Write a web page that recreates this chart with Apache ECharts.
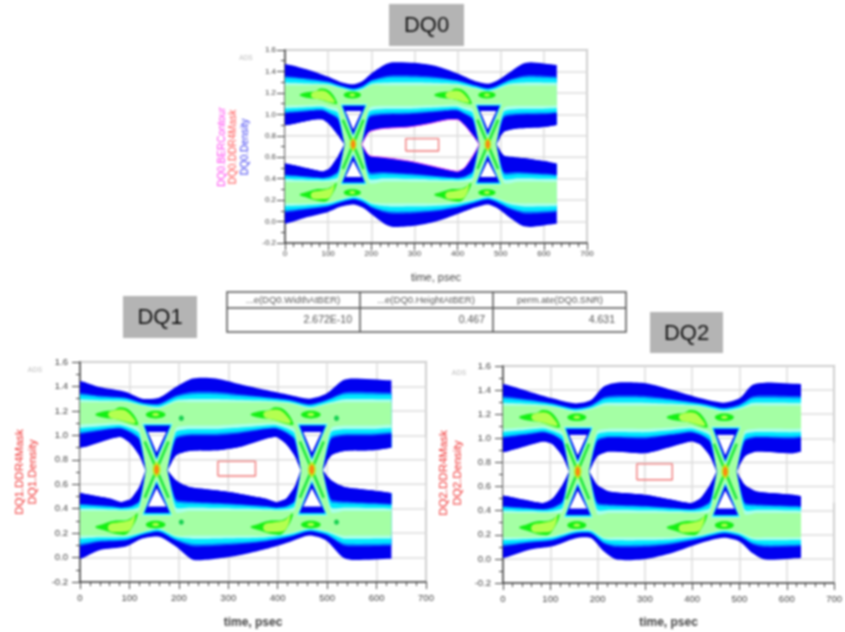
<!DOCTYPE html>
<html><head><meta charset="utf-8">
<style>html,body{margin:0;padding:0;background:#fff}#c{width:845px;height:632px;filter:blur(0.85px)}</style>
<script src="https://cdn.jsdelivr.net/npm/echarts@6/dist/echarts.min.js"></script>
</head><body><div id="c"></div>
<script>
// ---------- axis data
const xTicks=[0,100,200,300,400,500,600,700];
const yTicks=[-0.2,0,0.2,0.4,0.6,0.8,1.0,1.2,1.4,1.6];
// ---------- table
const tableHeaders=['...e(DQ0.WidthAtBER)','...e(DQ0.HeightAtBER)','perm.ate(DQ0.SNR)'];
const tableValues=['2.672E-10','0.467','4.631'];
// ---------- DQ0 curves
const dq0TopT=[0,50,100,130,160,180,200,230,250,300,350,400,440,470,490,520,550,570,630];
const dq0Top=[1.47,1.42,1.35,1.30,1.28,1.31,1.38,1.46,1.485,1.48,1.45,1.38,1.31,1.285,1.31,1.39,1.47,1.485,1.46];
const dq0GreenTop=[1.27,1.27,1.27,1.24,1.21,1.23,1.27,1.27,1.27,1.27,1.27,1.27,1.24,1.21,1.23,1.27,1.27,1.27,1.27];
const dq0Bot=[-0.02,0.04,0.09,0.14,0.16,0.13,0.07,-0.02,-0.05,-0.04,0.0,0.07,0.13,0.16,0.13,0.04,-0.04,-0.05,-0.02];
const dq0GreenBot=[0.17,0.17,0.18,0.21,0.24,0.22,0.18,0.17,0.17,0.17,0.17,0.18,0.21,0.24,0.22,0.18,0.17,0.17,0.17];
const dq0EyeT=[178,195,226,288,334,381,400,416,435,450];
const dq0EyeUp=[0.72,0.835,0.867,0.882,0.913,0.951,0.951,0.90,0.805,0.72];
const dq0EyeUpOuter=[0.72,1.06,1.08,1.08,1.085,1.09,1.09,1.07,1.05,0.72];
const dq0EyeLo=[0.72,0.617,0.60,0.564,0.524,0.48,0.468,0.50,0.61,0.72];
const dq0EyeLoOuter=[0.72,0.36,0.37,0.37,0.37,0.37,0.37,0.37,0.38,0.72];
const dq0MaskT=[280,356], dq0MaskV=[0.658,0.773];
const dq0Cross=[158,470];
// ---------- DQ1 curves
const dq1TopT=[0,39,93,126,160,194,228,275,322,376,424,464,498,532,552,630];
const dq1Top=[1.445,1.395,1.355,1.30,1.308,1.395,1.465,1.465,1.42,1.37,1.33,1.30,1.34,1.45,1.465,1.45];
const dq1GreenTop=[1.27,1.27,1.27,1.24,1.22,1.27,1.27,1.27,1.27,1.27,1.26,1.22,1.25,1.27,1.27,1.27];
const dq1Bot=[-0.01,0.06,0.09,0.155,0.17,0.09,-0.017,-0.01,0.018,0.07,0.128,0.18,0.14,0.0,-0.02,-0.01];
const dq1GreenBot=[0.18,0.18,0.18,0.21,0.24,0.18,0.18,0.18,0.18,0.18,0.20,0.24,0.22,0.18,0.18,0.18];
const dq1EyeT=[177,194,221,275,322,376,397,417,434,447];
const dq1EyeUp=[0.714,0.836,0.872,0.877,0.905,0.973,0.986,0.93,0.836,0.714];
const dq1EyeUpOuter=[0.714,1.06,1.08,1.08,1.09,1.10,1.10,1.08,1.05,0.714];
const dq1EyeLo=[0.714,0.632,0.577,0.55,0.523,0.482,0.455,0.482,0.577,0.714];
const dq1EyeLoOuter=[0.714,0.37,0.38,0.38,0.38,0.38,0.38,0.38,0.39,0.714];
const dq1MaskT=[279,355], dq1MaskV=[0.667,0.787];
const dq1Cross=[155,469];
// ---------- DQ2 curves
const dq2TopT=[0,56,104,152,186,213,240,302,357,418,466,500,527,555,630];
const dq2Top=[1.45,1.387,1.332,1.29,1.318,1.43,1.462,1.456,1.40,1.332,1.296,1.332,1.443,1.462,1.45];
const dq2GreenTop=[1.27,1.27,1.26,1.22,1.24,1.27,1.27,1.27,1.27,1.26,1.22,1.24,1.27,1.27,1.27];
const dq2Bot=[0.007,0.076,0.104,0.17,0.173,0.063,-0.006,0.0,0.049,0.132,0.175,0.145,0.049,-0.006,0.007];
const dq2GreenBot=[0.18,0.18,0.19,0.24,0.24,0.18,0.18,0.18,0.18,0.20,0.24,0.22,0.18,0.18,0.18];
const dq2EyeT=[182,199,224,302,357,397,417,438,452];
const dq2EyeUp=[0.725,0.85,0.89,0.877,0.932,0.973,0.95,0.85,0.725];
const dq2EyeUpOuter=[0.725,1.06,1.08,1.08,1.09,1.10,1.08,1.05,0.725];
const dq2EyeLo=[0.725,0.615,0.56,0.532,0.49,0.463,0.50,0.615,0.725];
const dq2EyeLoOuter=[0.725,0.37,0.38,0.38,0.38,0.38,0.38,0.39,0.725];
const dq2MaskT=[283,358], dq2MaskV=[0.656,0.788];
const dq2Cross=[158,470];
// ---------- shapes around each crossing (offset in time from crossing, absolute volts)
const triTop=[[[-30,1.10],[33,1.10],[0,0.785]],[[-28,1.09],[31,1.09],[0,0.795]],[[-25,1.08],[28,1.08],[0,0.81]],[[-18,1.03],[20,1.03],[0,0.855]]];
const triBot=[[[-30,0.34],[32,0.34],[0,0.645]],[[-28,0.35],[30,0.35],[0,0.63]],[[-25,0.365],[27,0.365],[0,0.615]],[[-18,0.415],[20,0.415],[0,0.57]]];
const blobTopGreen=[[-124,1.18],[-108,1.205],[-88,1.215],[-73,1.24],[-53,1.21],[-37,1.10],[-48,1.10],[-80,1.14],[-108,1.155]];
const blobTopLight=[[-96,1.20],[-68,1.22],[-53,1.18],[-43,1.11],[-78,1.14],[-96,1.16]];
const blobBotGreen=[[-124,0.25],[-108,0.225],[-78,0.19],[-58,0.20],[-38,0.36],[-58,0.31],[-88,0.30],[-108,0.275]];
const blobBotLight=[[-96,0.27],[-73,0.29],[-53,0.31],[-43,0.35],[-53,0.23],[-73,0.21],[-96,0.22]];
const armA=[[-24,0.23],[0,0],[24,-0.23]];
const armB=[[-24,-0.23],[0,0],[24,0.23]];
// ---------- colours & shares of each band
const bandColors=['#0000f0','#0078ff','#00e8ff','#a8ffe8','#a4ffa4'];
const envShares=[0,0.56,0.66,0.86,1];
const eyeShares=[1,0.85,0.68,0.6];
const eyeColors=['#a8ffe8','#00e8ff','#0078ff','#0000f0'];
const triColors=['#a8ffe8','#00e8ff','#0000f0'];

const charts=[
 {name:'DQ0',grid:{left:285,top:50,width:302,height:193},fs:8,nameFs:11,nameW:'normal',nameGap:29,lm:9,xm:7,topT:dq0TopT,top:dq0Top,gTop:dq0GreenTop,botT:dq0TopT,bot:dq0Bot,gBot:dq0GreenBot,eyeT:dq0EyeT,up:dq0EyeUp,upO:dq0EyeUpOuter,lo:dq0EyeLo,loO:dq0EyeLoOuter,maskT:dq0MaskT,maskV:dq0MaskV,cross:dq0Cross,vc:0.72,railT:1.18,railB:0.27,ber:true,extra:false},
 {name:'DQ1',grid:{left:80,top:362,width:346,height:220},fs:9.5,nameFs:12,nameW:'bold',nameGap:35,lm:12,xm:11,topT:dq1TopT,top:dq1Top,gTop:dq1GreenTop,botT:dq1TopT,bot:dq1Bot,gBot:dq1GreenBot,eyeT:dq1EyeT,up:dq1EyeUp,upO:dq1EyeUpOuter,lo:dq1EyeLo,loO:dq1EyeLoOuter,maskT:dq1MaskT,maskV:dq1MaskV,cross:dq1Cross,vc:0.72,railT:1.17,railB:0.27,ber:false,extra:true},
 {name:'DQ2',grid:{left:503,top:366,width:341,height:217},fs:9.5,nameFs:12,nameW:'bold',nameGap:34,lm:12,xm:11,topT:dq2TopT,top:dq2Top,gTop:dq2GreenTop,botT:dq2TopT,bot:dq2Bot,gBot:dq2GreenBot,eyeT:dq2EyeT,up:dq2EyeUp,upO:dq2EyeUpOuter,lo:dq2EyeLo,loO:dq2EyeLoOuter,maskT:dq2MaskT,maskV:dq2MaskV,cross:dq2Cross,vc:0.725,railT:1.175,railB:0.28,ber:false,extra:false}
];

function level(t,a,b,s,dt){return t.map((x,i)=>[x+dt,a[i]+(b[i]-a[i])*s]);}
function pad(p){return [[-40,p[0][1]]].concat(p,[[670,p[p.length-1][1]]]);}

function buildLayers(c){
 const L=[];
 envShares.forEach((s,i)=>{
  const up=pad(level(c.topT,c.top,c.gTop,s,0)), dn=pad(level(c.botT,c.bot,c.gBot,s,0)).reverse();
  L.push({kind:'poly',pts:up.concat(dn),fill:bandColors[i],smooth:0.25,cut:true});
 });
 const period=c.cross[1]-c.cross[0];
 [-period,0,period].forEach(dt=>{
  eyeShares.forEach((s,i)=>{
   const up=level(c.eyeT,c.up,c.upO,s,dt), dn=level(c.eyeT,c.lo,c.loO,s,dt).reverse();
   L.push({kind:'poly',pts:up.concat(dn),fill:eyeColors[i],smooth:0.2,cut:true});
  });
  const up=level(c.eyeT,c.up,c.up,0,dt), dn=level(c.eyeT,c.lo,c.lo,0,dt).reverse();
  L.push({kind:'hole',pts:up.concat(dn),smooth:0.2});
 });
 c.cross.forEach(x=>{
  const sh=a=>a.map(p=>[p[0]+x,p[1]]);
  [triTop,triBot].forEach(tr=>{
   tr.slice(0,3).forEach((t,i)=>L.push({kind:'poly',pts:sh(t),fill:triColors[i],smooth:0}));
   L.push({kind:'hole',pts:sh(tr[3]),smooth:0});
  });
  const dT=c.railT-1.18,dB=c.railB-0.27;
  const sv=(a,d)=>a.map(p=>[p[0]+x,p[1]+d]);
  L.push({kind:'poly',pts:sv(blobTopGreen,dT),fill:'#14f014',smooth:0.4});
  L.push({kind:'poly',pts:sv(blobTopLight,dT),fill:'#b4ff50',smooth:0.4});
  L.push({kind:'poly',pts:sv(blobBotGreen,dB),fill:'#14f014',smooth:0.4});
  L.push({kind:'poly',pts:sv(blobBotLight,dB),fill:'#b4ff50',smooth:0.4});
  [c.railT,c.railB].forEach(v=>{
   L.push({kind:'ell',t:x-2,v:v,rt:20,rv:0.032,fill:'#14f014'});
   L.push({kind:'ell',t:x-2,v:v,rt:7,rv:0.014,fill:'#b4ff50'});
  });
  if(c.extra){[c.railT-0.03,c.railB+0.02].forEach(v=>L.push({kind:'ell',t:x+50,v:v,rt:5,rv:0.022,fill:'#14d050'}));}
  const arm=a=>a.map(p=>[p[0]+x,p[1]+c.vc]);
  L.push({kind:'line',pts:arm(armA),color:'#18e838',w:2.5});
  L.push({kind:'line',pts:arm(armB),color:'#18e838',w:2.5});
  L.push({kind:'ell',t:x,v:c.vc,rt:8,rv:0.06,fill:'#b8f020'});
  L.push({kind:'ell',t:x,v:c.vc,rt:4.5,rv:0.04,fill:'#ff8410'});
 });
 return L;
}

function renderer(c,L,gi){
 return function(params,api){
  const l=L[params.dataIndex];
  const P=a=>a.map(p=>api.coord(p));
  if(l.kind==='poly'){
   const el={type:'polygon',shape:{points:P(l.pts),smooth:l.smooth||0},style:{fill:l.fill}};
   if(l.cut){
    const a=api.coord([0,1.6]),b=api.coord([630,-0.2]);
    el.clipPath={type:'rect',shape:{x:a[0],y:a[1],width:b[0]-a[0],height:b[1]-a[1]}};
   }
   return el;
  }
  if(l.kind==='line'){
   return {type:'polyline',shape:{points:P(l.pts)},style:{stroke:l.color,lineWidth:l.w,fill:null}};
  }
  if(l.kind==='ell'){
   const o=api.coord([l.t,l.v]),s=api.size([l.rt,l.rv]);
   return {type:'ellipse',shape:{cx:o[0],cy:o[1],rx:s[0],ry:s[1]},style:{fill:l.fill}};
  }
  const pts=P(l.pts);
  const kids=[{type:'polygon',shape:{points:pts,smooth:l.smooth||0},style:{fill:'#fff'}}];
  const a=api.coord([0,-0.2]),b=api.coord([700,1.6]);
  xTicks.forEach(t=>{const p=api.coord([t,0]);kids.push({type:'line',shape:{x1:p[0],y1:a[1],x2:p[0],y2:b[1]},style:{stroke:'#dcdcdc',lineWidth:1.5}});});
  yTicks.forEach(v=>{const p=api.coord([0,v]);kids.push({type:'line',shape:{x1:a[0],y1:p[1],x2:b[0],y2:p[1]},style:{stroke:'#dcdcdc',lineWidth:1.5}});});
  return {type:'group',clipPath:{type:'polygon',shape:{points:pts,smooth:l.smooth||0}},children:kids};
 };
}

const grids=[],xAxes=[],yAxes=[],series=[];
charts.forEach((c,i)=>{
 grids.push(Object.assign({show:true,borderColor:'#8a8a8a',borderWidth:1.5},c.grid));
 xAxes.push({type:'value',gridIndex:i,min:0,max:700,interval:100,name:'time, psec',nameLocation:'middle',nameGap:c.nameGap,
  nameTextStyle:{color:'#444',fontSize:c.nameFs,fontFamily:'Liberation Sans',fontWeight:c.nameW},
  axisLine:{show:true,onZero:false,lineStyle:{color:'#444',width:1.5}},axisTick:{show:true,length:7,lineStyle:{color:'#444'}},
  minorTick:{show:true,splitNumber:5,length:4,lineStyle:{color:'#444'}},
  axisLabel:{color:'#444',fontSize:c.fs,fontFamily:'Liberation Sans',margin:c.xm,showMaxLabel:true,showMinLabel:true},
  splitLine:{show:true,lineStyle:{color:'#dcdcdc',width:1.5}},minorSplitLine:{show:false}});
 yAxes.push({type:'value',gridIndex:i,min:-0.2,max:1.6,interval:0.2,
  axisLine:{show:true,onZero:false,lineStyle:{color:'#444',width:1.5}},axisTick:{show:true,length:8,lineStyle:{color:'#444'}},
  minorTick:{show:true,splitNumber:2,length:4,lineStyle:{color:'#444'}},
  axisLabel:{color:'#444',fontSize:c.fs,fontFamily:'Liberation Sans',margin:c.lm,formatter:v=>(+v).toFixed(1),showMaxLabel:true,showMinLabel:true},
  splitLine:{show:true,lineStyle:{color:'#dcdcdc',width:1.5}}});
 const L=buildLayers(c);
 series.push({type:'custom',name:c.name+'.Density',xAxisIndex:i,yAxisIndex:i,coordinateSystem:'cartesian2d',clip:true,silent:true,
  renderItem:renderer(c,L,i),encode:{x:0,y:1},animation:false,
  data:L.map(l=>l.pts?[l.pts[0][0],l.pts[0][1]]:[l.t,l.v])});
 const mt=c.maskT,mv=c.maskV;
 series.push({type:'line',name:c.name+'.DDR4Mask',xAxisIndex:i,yAxisIndex:i,symbol:'none',silent:true,animation:false,
  lineStyle:{color:'#f07878',width:1.4},data:[[mt[0],mv[0]],[mt[1],mv[0]],[mt[1],mv[1]],[mt[0],mv[1]],[mt[0],mv[0]]]});
 if(c.ber){
  const up=c.eyeT.map((t,j)=>[t,c.up[j]]),dn=c.eyeT.map((t,j)=>[t,c.lo[j]]).reverse();
  series.push({type:'line',name:c.name+'.BERContour',xAxisIndex:i,yAxisIndex:i,symbol:'none',silent:true,animation:false,smooth:0.2,
   lineStyle:{color:'#ff50f0',width:1},data:up.concat(dn)});
 }
});

const txt=(x,y,t,o)=>({type:'text',x:x,y:y,z:10,style:Object.assign({text:t,fontFamily:'Liberation Sans',fill:'#555',fontSize:10,textAlign:'center',textVerticalAlign:'middle'},o||{})});
const rot=(x,y,t,color,fs)=>({type:'text',x:x,y:y,rotation:Math.PI/2,z:10,style:{text:t,fontFamily:'Liberation Sans',fill:color,fontSize:fs,textAlign:'center',textVerticalAlign:'middle'}});
const titleBox=(x,y,w,h,t)=>[{type:'rect',z:9,shape:{x:x,y:y,width:w,height:h},style:{fill:'#b4b4b4'}},txt(x+w/2,y+h/2+1,t,{fontSize:22,fill:'#111'})];
const ln=(x1,y1,x2,y2)=>({type:'line',z:9,shape:{x1,y1,x2,y2},style:{stroke:'#555',lineWidth:1.5}});
const g=[].concat(
 titleBox(389,4,75,42,'DQ0'),titleBox(123,296,74,42,'DQ1'),titleBox(650,312,73,41,'DQ2'),
 [{type:'rect',z:9,shape:{x:227,y:292,width:399,height:40},style:{fill:'#fff',stroke:'#555',lineWidth:1.5}},
  ln(227,308,626,308),ln(360,292,360,332),ln(493,292,493,332),
  txt(293,300,tableHeaders[0],{fontSize:9.5,fill:'#555'}),txt(426,300,tableHeaders[1],{fontSize:9.5,fill:'#555'}),txt(560,300,tableHeaders[2],{fontSize:9.5,fill:'#555'}),
  txt(352,320,tableValues[0],{textAlign:'right',fontSize:10.5,fill:'#555'}),txt(485,320,tableValues[1],{textAlign:'right',fontSize:10.5,fill:'#555'}),txt(615,320,tableValues[2],{textAlign:'right',fontSize:10.5,fill:'#555'}),
  txt(246,58,'ADS',{fontSize:6.5,fill:'#bbb'}),txt(35,370,'ADS',{fontSize:7,fill:'#bbb'}),txt(459,373,'ADS',{fontSize:7,fill:'#bbb'}),
  rot(222,147,'DQ0.BERContour','#ff40f0',10),rot(233,147,'DQ0.DDR4Mask','#ff5050',10),rot(245,147,'DQ0.Density','#3a3af0',10),
  rot(20,472,'DQ1.DDR4Mask','#f03030',11.5),rot(33,472,'DQ1.Density','#f03030',11.5),
  rot(444,473,'DQ2.DDR4Mask','#f03030',11.5),rot(458,473,'DQ2.Density','#f03030',11.5)]
);

const chart=echarts.init(document.getElementById('c'),null,{renderer:'canvas'});
chart.setOption({animation:false,backgroundColor:'#fff',grid:grids,xAxis:xAxes,yAxis:yAxes,series:series,graphic:{elements:g}});
</script></body></html>
